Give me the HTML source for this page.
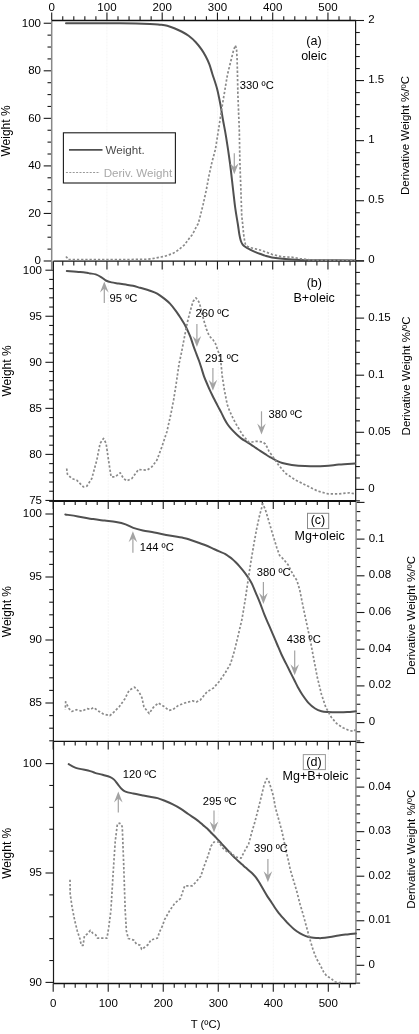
<!DOCTYPE html>
<html><head><meta charset="utf-8"><title>TGA</title>
<style>
html,body{margin:0;padding:0;background:#fff;}
body{width:419px;height:1034px;overflow:hidden;}
svg{display:block;font-family:"Liberation Sans",sans-serif;will-change:transform;}
</style></head>
<body>
<svg width="419" height="1034" viewBox="0 0 419 1034">
<rect width="419" height="1034" fill="#fff"/>
<line x1="106.95" y1="20.5" x2="106.95" y2="261.2" stroke="#f5f5f5" stroke-width="1" stroke-dasharray="2 1"/>
<line x1="162.2" y1="20.5" x2="162.2" y2="261.2" stroke="#f5f5f5" stroke-width="1" stroke-dasharray="2 1"/>
<line x1="217.45" y1="20.5" x2="217.45" y2="261.2" stroke="#f5f5f5" stroke-width="1" stroke-dasharray="2 1"/>
<line x1="272.7" y1="20.5" x2="272.7" y2="261.2" stroke="#f5f5f5" stroke-width="1" stroke-dasharray="2 1"/>
<line x1="327.95" y1="20.5" x2="327.95" y2="261.2" stroke="#f5f5f5" stroke-width="1" stroke-dasharray="2 1"/>
<line x1="108.22" y1="261.2" x2="108.22" y2="500.9" stroke="#f5f5f5" stroke-width="1" stroke-dasharray="2 1"/>
<line x1="163.24" y1="261.2" x2="163.24" y2="500.9" stroke="#f5f5f5" stroke-width="1" stroke-dasharray="2 1"/>
<line x1="218.26" y1="261.2" x2="218.26" y2="500.9" stroke="#f5f5f5" stroke-width="1" stroke-dasharray="2 1"/>
<line x1="273.28" y1="261.2" x2="273.28" y2="500.9" stroke="#f5f5f5" stroke-width="1" stroke-dasharray="2 1"/>
<line x1="328.3" y1="261.2" x2="328.3" y2="500.9" stroke="#f5f5f5" stroke-width="1" stroke-dasharray="2 1"/>
<line x1="108.22" y1="500.9" x2="108.22" y2="741.4" stroke="#f5f5f5" stroke-width="1" stroke-dasharray="2 1"/>
<line x1="163.24" y1="500.9" x2="163.24" y2="741.4" stroke="#f5f5f5" stroke-width="1" stroke-dasharray="2 1"/>
<line x1="218.26" y1="500.9" x2="218.26" y2="741.4" stroke="#f5f5f5" stroke-width="1" stroke-dasharray="2 1"/>
<line x1="273.28" y1="500.9" x2="273.28" y2="741.4" stroke="#f5f5f5" stroke-width="1" stroke-dasharray="2 1"/>
<line x1="328.3" y1="500.9" x2="328.3" y2="741.4" stroke="#f5f5f5" stroke-width="1" stroke-dasharray="2 1"/>
<line x1="108.22" y1="741.4" x2="108.22" y2="983.5" stroke="#f5f5f5" stroke-width="1" stroke-dasharray="2 1"/>
<line x1="163.24" y1="741.4" x2="163.24" y2="983.5" stroke="#f5f5f5" stroke-width="1" stroke-dasharray="2 1"/>
<line x1="218.26" y1="741.4" x2="218.26" y2="983.5" stroke="#f5f5f5" stroke-width="1" stroke-dasharray="2 1"/>
<line x1="273.28" y1="741.4" x2="273.28" y2="983.5" stroke="#f5f5f5" stroke-width="1" stroke-dasharray="2 1"/>
<line x1="328.3" y1="741.4" x2="328.3" y2="983.5" stroke="#f5f5f5" stroke-width="1" stroke-dasharray="2 1"/>
<line x1="43.7" y1="261" x2="51.7" y2="261" stroke="#1a1a1a" stroke-width="1.1"/>
<text x="41" y="264.3" font-size="11.5" text-anchor="end" fill="#000">0</text>
<line x1="47.5" y1="249.11" x2="51.7" y2="249.11" stroke="#1a1a1a" stroke-width="1.1"/>
<line x1="47.5" y1="237.22" x2="51.7" y2="237.22" stroke="#1a1a1a" stroke-width="1.1"/>
<line x1="47.5" y1="225.34" x2="51.7" y2="225.34" stroke="#1a1a1a" stroke-width="1.1"/>
<line x1="43.7" y1="213.45" x2="51.7" y2="213.45" stroke="#1a1a1a" stroke-width="1.1"/>
<text x="41" y="216.75" font-size="11.5" text-anchor="end" fill="#000">20</text>
<line x1="47.5" y1="201.56" x2="51.7" y2="201.56" stroke="#1a1a1a" stroke-width="1.1"/>
<line x1="47.5" y1="189.68" x2="51.7" y2="189.68" stroke="#1a1a1a" stroke-width="1.1"/>
<line x1="47.5" y1="177.79" x2="51.7" y2="177.79" stroke="#1a1a1a" stroke-width="1.1"/>
<line x1="43.7" y1="165.9" x2="51.7" y2="165.9" stroke="#1a1a1a" stroke-width="1.1"/>
<text x="41" y="169.2" font-size="11.5" text-anchor="end" fill="#000">40</text>
<line x1="47.5" y1="154.01" x2="51.7" y2="154.01" stroke="#1a1a1a" stroke-width="1.1"/>
<line x1="47.5" y1="142.12" x2="51.7" y2="142.12" stroke="#1a1a1a" stroke-width="1.1"/>
<line x1="47.5" y1="130.24" x2="51.7" y2="130.24" stroke="#1a1a1a" stroke-width="1.1"/>
<line x1="43.7" y1="118.35" x2="51.7" y2="118.35" stroke="#1a1a1a" stroke-width="1.1"/>
<text x="41" y="121.65" font-size="11.5" text-anchor="end" fill="#000">60</text>
<line x1="47.5" y1="106.46" x2="51.7" y2="106.46" stroke="#1a1a1a" stroke-width="1.1"/>
<line x1="47.5" y1="94.58" x2="51.7" y2="94.58" stroke="#1a1a1a" stroke-width="1.1"/>
<line x1="47.5" y1="82.69" x2="51.7" y2="82.69" stroke="#1a1a1a" stroke-width="1.1"/>
<line x1="43.7" y1="70.8" x2="51.7" y2="70.8" stroke="#1a1a1a" stroke-width="1.1"/>
<text x="41" y="74.1" font-size="11.5" text-anchor="end" fill="#000">80</text>
<line x1="47.5" y1="58.91" x2="51.7" y2="58.91" stroke="#1a1a1a" stroke-width="1.1"/>
<line x1="47.5" y1="47.03" x2="51.7" y2="47.03" stroke="#1a1a1a" stroke-width="1.1"/>
<line x1="47.5" y1="35.14" x2="51.7" y2="35.14" stroke="#1a1a1a" stroke-width="1.1"/>
<line x1="43.7" y1="23.25" x2="51.7" y2="23.25" stroke="#1a1a1a" stroke-width="1.1"/>
<text x="41" y="26.55" font-size="11.5" text-anchor="end" fill="#000">100</text>
<line x1="45.4" y1="500.45" x2="53.4" y2="500.45" stroke="#1a1a1a" stroke-width="1.1"/>
<text x="42" y="503.75" font-size="11.5" text-anchor="end" fill="#000">75</text>
<line x1="49.2" y1="491.24" x2="53.4" y2="491.24" stroke="#1a1a1a" stroke-width="1.1"/>
<line x1="49.2" y1="482.03" x2="53.4" y2="482.03" stroke="#1a1a1a" stroke-width="1.1"/>
<line x1="49.2" y1="472.82" x2="53.4" y2="472.82" stroke="#1a1a1a" stroke-width="1.1"/>
<line x1="49.2" y1="463.61" x2="53.4" y2="463.61" stroke="#1a1a1a" stroke-width="1.1"/>
<line x1="45.4" y1="454.4" x2="53.4" y2="454.4" stroke="#1a1a1a" stroke-width="1.1"/>
<text x="42" y="457.7" font-size="11.5" text-anchor="end" fill="#000">80</text>
<line x1="49.2" y1="445.19" x2="53.4" y2="445.19" stroke="#1a1a1a" stroke-width="1.1"/>
<line x1="49.2" y1="435.98" x2="53.4" y2="435.98" stroke="#1a1a1a" stroke-width="1.1"/>
<line x1="49.2" y1="426.77" x2="53.4" y2="426.77" stroke="#1a1a1a" stroke-width="1.1"/>
<line x1="49.2" y1="417.56" x2="53.4" y2="417.56" stroke="#1a1a1a" stroke-width="1.1"/>
<line x1="45.4" y1="408.35" x2="53.4" y2="408.35" stroke="#1a1a1a" stroke-width="1.1"/>
<text x="42" y="411.65" font-size="11.5" text-anchor="end" fill="#000">85</text>
<line x1="49.2" y1="399.14" x2="53.4" y2="399.14" stroke="#1a1a1a" stroke-width="1.1"/>
<line x1="49.2" y1="389.93" x2="53.4" y2="389.93" stroke="#1a1a1a" stroke-width="1.1"/>
<line x1="49.2" y1="380.72" x2="53.4" y2="380.72" stroke="#1a1a1a" stroke-width="1.1"/>
<line x1="49.2" y1="371.51" x2="53.4" y2="371.51" stroke="#1a1a1a" stroke-width="1.1"/>
<line x1="45.4" y1="362.3" x2="53.4" y2="362.3" stroke="#1a1a1a" stroke-width="1.1"/>
<text x="42" y="365.6" font-size="11.5" text-anchor="end" fill="#000">90</text>
<line x1="49.2" y1="353.09" x2="53.4" y2="353.09" stroke="#1a1a1a" stroke-width="1.1"/>
<line x1="49.2" y1="343.88" x2="53.4" y2="343.88" stroke="#1a1a1a" stroke-width="1.1"/>
<line x1="49.2" y1="334.67" x2="53.4" y2="334.67" stroke="#1a1a1a" stroke-width="1.1"/>
<line x1="49.2" y1="325.46" x2="53.4" y2="325.46" stroke="#1a1a1a" stroke-width="1.1"/>
<line x1="45.4" y1="316.25" x2="53.4" y2="316.25" stroke="#1a1a1a" stroke-width="1.1"/>
<text x="42" y="319.55" font-size="11.5" text-anchor="end" fill="#000">95</text>
<line x1="49.2" y1="307.04" x2="53.4" y2="307.04" stroke="#1a1a1a" stroke-width="1.1"/>
<line x1="49.2" y1="297.83" x2="53.4" y2="297.83" stroke="#1a1a1a" stroke-width="1.1"/>
<line x1="49.2" y1="288.62" x2="53.4" y2="288.62" stroke="#1a1a1a" stroke-width="1.1"/>
<line x1="49.2" y1="279.41" x2="53.4" y2="279.41" stroke="#1a1a1a" stroke-width="1.1"/>
<line x1="45.4" y1="270.2" x2="53.4" y2="270.2" stroke="#1a1a1a" stroke-width="1.1"/>
<text x="42" y="273.5" font-size="11.5" text-anchor="end" fill="#000">100</text>
<line x1="49.2" y1="740.8" x2="53.4" y2="740.8" stroke="#1a1a1a" stroke-width="1.1"/>
<line x1="49.2" y1="728.2" x2="53.4" y2="728.2" stroke="#1a1a1a" stroke-width="1.1"/>
<line x1="49.2" y1="715.6" x2="53.4" y2="715.6" stroke="#1a1a1a" stroke-width="1.1"/>
<line x1="45.4" y1="703" x2="53.4" y2="703" stroke="#1a1a1a" stroke-width="1.1"/>
<text x="42" y="706.3" font-size="11.5" text-anchor="end" fill="#000">85</text>
<line x1="49.2" y1="690.4" x2="53.4" y2="690.4" stroke="#1a1a1a" stroke-width="1.1"/>
<line x1="49.2" y1="677.8" x2="53.4" y2="677.8" stroke="#1a1a1a" stroke-width="1.1"/>
<line x1="49.2" y1="665.2" x2="53.4" y2="665.2" stroke="#1a1a1a" stroke-width="1.1"/>
<line x1="49.2" y1="652.6" x2="53.4" y2="652.6" stroke="#1a1a1a" stroke-width="1.1"/>
<line x1="45.4" y1="640" x2="53.4" y2="640" stroke="#1a1a1a" stroke-width="1.1"/>
<text x="42" y="643.3" font-size="11.5" text-anchor="end" fill="#000">90</text>
<line x1="49.2" y1="627.4" x2="53.4" y2="627.4" stroke="#1a1a1a" stroke-width="1.1"/>
<line x1="49.2" y1="614.8" x2="53.4" y2="614.8" stroke="#1a1a1a" stroke-width="1.1"/>
<line x1="49.2" y1="602.2" x2="53.4" y2="602.2" stroke="#1a1a1a" stroke-width="1.1"/>
<line x1="49.2" y1="589.6" x2="53.4" y2="589.6" stroke="#1a1a1a" stroke-width="1.1"/>
<line x1="45.4" y1="577" x2="53.4" y2="577" stroke="#1a1a1a" stroke-width="1.1"/>
<text x="42" y="580.3" font-size="11.5" text-anchor="end" fill="#000">95</text>
<line x1="49.2" y1="564.4" x2="53.4" y2="564.4" stroke="#1a1a1a" stroke-width="1.1"/>
<line x1="49.2" y1="551.8" x2="53.4" y2="551.8" stroke="#1a1a1a" stroke-width="1.1"/>
<line x1="49.2" y1="539.2" x2="53.4" y2="539.2" stroke="#1a1a1a" stroke-width="1.1"/>
<line x1="49.2" y1="526.6" x2="53.4" y2="526.6" stroke="#1a1a1a" stroke-width="1.1"/>
<line x1="45.4" y1="514" x2="53.4" y2="514" stroke="#1a1a1a" stroke-width="1.1"/>
<text x="42" y="517.3" font-size="11.5" text-anchor="end" fill="#000">100</text>
<line x1="49.2" y1="501.4" x2="53.4" y2="501.4" stroke="#1a1a1a" stroke-width="1.1"/>
<line x1="45.5" y1="982.4" x2="53.5" y2="982.4" stroke="#1a1a1a" stroke-width="1.1"/>
<text x="42" y="985.7" font-size="11.5" text-anchor="end" fill="#000">90</text>
<line x1="49.3" y1="960.52" x2="53.5" y2="960.52" stroke="#1a1a1a" stroke-width="1.1"/>
<line x1="49.3" y1="938.64" x2="53.5" y2="938.64" stroke="#1a1a1a" stroke-width="1.1"/>
<line x1="49.3" y1="916.76" x2="53.5" y2="916.76" stroke="#1a1a1a" stroke-width="1.1"/>
<line x1="49.3" y1="894.88" x2="53.5" y2="894.88" stroke="#1a1a1a" stroke-width="1.1"/>
<line x1="45.5" y1="873" x2="53.5" y2="873" stroke="#1a1a1a" stroke-width="1.1"/>
<text x="42" y="876.3" font-size="11.5" text-anchor="end" fill="#000">95</text>
<line x1="49.3" y1="851.12" x2="53.5" y2="851.12" stroke="#1a1a1a" stroke-width="1.1"/>
<line x1="49.3" y1="829.24" x2="53.5" y2="829.24" stroke="#1a1a1a" stroke-width="1.1"/>
<line x1="49.3" y1="807.36" x2="53.5" y2="807.36" stroke="#1a1a1a" stroke-width="1.1"/>
<line x1="49.3" y1="785.48" x2="53.5" y2="785.48" stroke="#1a1a1a" stroke-width="1.1"/>
<line x1="45.5" y1="763.6" x2="53.5" y2="763.6" stroke="#1a1a1a" stroke-width="1.1"/>
<text x="42" y="766.9" font-size="11.5" text-anchor="end" fill="#000">100</text>
<line x1="355.6" y1="260.8" x2="364" y2="260.8" stroke="#1a1a1a" stroke-width="1.1"/>
<text x="368.2" y="263.2" font-size="11.5" text-anchor="start" fill="#000">0</text>
<line x1="355.6" y1="248.79" x2="359.8" y2="248.79" stroke="#1a1a1a" stroke-width="1.1"/>
<line x1="355.6" y1="236.77" x2="359.8" y2="236.77" stroke="#1a1a1a" stroke-width="1.1"/>
<line x1="355.6" y1="224.75" x2="359.8" y2="224.75" stroke="#1a1a1a" stroke-width="1.1"/>
<line x1="355.6" y1="212.74" x2="359.8" y2="212.74" stroke="#1a1a1a" stroke-width="1.1"/>
<line x1="355.6" y1="200.73" x2="364" y2="200.73" stroke="#1a1a1a" stroke-width="1.1"/>
<text x="368.2" y="203.13" font-size="11.5" text-anchor="start" fill="#000">0.5</text>
<line x1="355.6" y1="188.71" x2="359.8" y2="188.71" stroke="#1a1a1a" stroke-width="1.1"/>
<line x1="355.6" y1="176.69" x2="359.8" y2="176.69" stroke="#1a1a1a" stroke-width="1.1"/>
<line x1="355.6" y1="164.68" x2="359.8" y2="164.68" stroke="#1a1a1a" stroke-width="1.1"/>
<line x1="355.6" y1="152.67" x2="359.8" y2="152.67" stroke="#1a1a1a" stroke-width="1.1"/>
<line x1="355.6" y1="140.65" x2="364" y2="140.65" stroke="#1a1a1a" stroke-width="1.1"/>
<text x="368.2" y="143.05" font-size="11.5" text-anchor="start" fill="#000">1</text>
<line x1="355.6" y1="128.63" x2="359.8" y2="128.63" stroke="#1a1a1a" stroke-width="1.1"/>
<line x1="355.6" y1="116.62" x2="359.8" y2="116.62" stroke="#1a1a1a" stroke-width="1.1"/>
<line x1="355.6" y1="104.6" x2="359.8" y2="104.6" stroke="#1a1a1a" stroke-width="1.1"/>
<line x1="355.6" y1="92.59" x2="359.8" y2="92.59" stroke="#1a1a1a" stroke-width="1.1"/>
<line x1="355.6" y1="80.57" x2="364" y2="80.57" stroke="#1a1a1a" stroke-width="1.1"/>
<text x="368.2" y="82.97" font-size="11.5" text-anchor="start" fill="#000">1.5</text>
<line x1="355.6" y1="68.56" x2="359.8" y2="68.56" stroke="#1a1a1a" stroke-width="1.1"/>
<line x1="355.6" y1="56.54" x2="359.8" y2="56.54" stroke="#1a1a1a" stroke-width="1.1"/>
<line x1="355.6" y1="44.53" x2="359.8" y2="44.53" stroke="#1a1a1a" stroke-width="1.1"/>
<line x1="355.6" y1="32.51" x2="359.8" y2="32.51" stroke="#1a1a1a" stroke-width="1.1"/>
<line x1="355.6" y1="20.5" x2="364" y2="20.5" stroke="#1a1a1a" stroke-width="1.1"/>
<text x="368.2" y="22.9" font-size="11.5" text-anchor="start" fill="#000">2</text>
<line x1="355.7" y1="500.82" x2="359.9" y2="500.82" stroke="#1a1a1a" stroke-width="1.1"/>
<line x1="355.7" y1="489.4" x2="364.1" y2="489.4" stroke="#1a1a1a" stroke-width="1.1"/>
<text x="368.3" y="491.8" font-size="11.5" text-anchor="start" fill="#000">0</text>
<line x1="355.7" y1="477.98" x2="359.9" y2="477.98" stroke="#1a1a1a" stroke-width="1.1"/>
<line x1="355.7" y1="466.56" x2="359.9" y2="466.56" stroke="#1a1a1a" stroke-width="1.1"/>
<line x1="355.7" y1="455.14" x2="359.9" y2="455.14" stroke="#1a1a1a" stroke-width="1.1"/>
<line x1="355.7" y1="443.72" x2="359.9" y2="443.72" stroke="#1a1a1a" stroke-width="1.1"/>
<line x1="355.7" y1="432.3" x2="364.1" y2="432.3" stroke="#1a1a1a" stroke-width="1.1"/>
<text x="368.3" y="434.7" font-size="11.5" text-anchor="start" fill="#000">0.05</text>
<line x1="355.7" y1="420.88" x2="359.9" y2="420.88" stroke="#1a1a1a" stroke-width="1.1"/>
<line x1="355.7" y1="409.46" x2="359.9" y2="409.46" stroke="#1a1a1a" stroke-width="1.1"/>
<line x1="355.7" y1="398.04" x2="359.9" y2="398.04" stroke="#1a1a1a" stroke-width="1.1"/>
<line x1="355.7" y1="386.62" x2="359.9" y2="386.62" stroke="#1a1a1a" stroke-width="1.1"/>
<line x1="355.7" y1="375.2" x2="364.1" y2="375.2" stroke="#1a1a1a" stroke-width="1.1"/>
<text x="368.3" y="377.6" font-size="11.5" text-anchor="start" fill="#000">0.1</text>
<line x1="355.7" y1="363.78" x2="359.9" y2="363.78" stroke="#1a1a1a" stroke-width="1.1"/>
<line x1="355.7" y1="352.36" x2="359.9" y2="352.36" stroke="#1a1a1a" stroke-width="1.1"/>
<line x1="355.7" y1="340.94" x2="359.9" y2="340.94" stroke="#1a1a1a" stroke-width="1.1"/>
<line x1="355.7" y1="329.52" x2="359.9" y2="329.52" stroke="#1a1a1a" stroke-width="1.1"/>
<line x1="355.7" y1="318.1" x2="364.1" y2="318.1" stroke="#1a1a1a" stroke-width="1.1"/>
<text x="368.3" y="320.5" font-size="11.5" text-anchor="start" fill="#000">0.15</text>
<line x1="355.7" y1="306.68" x2="359.9" y2="306.68" stroke="#1a1a1a" stroke-width="1.1"/>
<line x1="355.7" y1="295.26" x2="359.9" y2="295.26" stroke="#1a1a1a" stroke-width="1.1"/>
<line x1="355.7" y1="283.84" x2="359.9" y2="283.84" stroke="#1a1a1a" stroke-width="1.1"/>
<line x1="355.7" y1="272.42" x2="359.9" y2="272.42" stroke="#1a1a1a" stroke-width="1.1"/>
<line x1="355.7" y1="261" x2="364.1" y2="261" stroke="#1a1a1a" stroke-width="1.1"/>
<line x1="356.1" y1="740.95" x2="360.3" y2="740.95" stroke="#1a1a1a" stroke-width="1.1"/>
<line x1="356.1" y1="731.77" x2="360.3" y2="731.77" stroke="#1a1a1a" stroke-width="1.1"/>
<line x1="356.1" y1="722.6" x2="364.5" y2="722.6" stroke="#1a1a1a" stroke-width="1.1"/>
<text x="368.7" y="725" font-size="11.5" text-anchor="start" fill="#000">0</text>
<line x1="356.1" y1="713.43" x2="360.3" y2="713.43" stroke="#1a1a1a" stroke-width="1.1"/>
<line x1="356.1" y1="704.25" x2="360.3" y2="704.25" stroke="#1a1a1a" stroke-width="1.1"/>
<line x1="356.1" y1="695.08" x2="360.3" y2="695.08" stroke="#1a1a1a" stroke-width="1.1"/>
<line x1="356.1" y1="685.9" x2="364.5" y2="685.9" stroke="#1a1a1a" stroke-width="1.1"/>
<text x="368.7" y="688.3" font-size="11.5" text-anchor="start" fill="#000">0.02</text>
<line x1="356.1" y1="676.73" x2="360.3" y2="676.73" stroke="#1a1a1a" stroke-width="1.1"/>
<line x1="356.1" y1="667.55" x2="360.3" y2="667.55" stroke="#1a1a1a" stroke-width="1.1"/>
<line x1="356.1" y1="658.38" x2="360.3" y2="658.38" stroke="#1a1a1a" stroke-width="1.1"/>
<line x1="356.1" y1="649.2" x2="364.5" y2="649.2" stroke="#1a1a1a" stroke-width="1.1"/>
<text x="368.7" y="651.6" font-size="11.5" text-anchor="start" fill="#000">0.04</text>
<line x1="356.1" y1="640.02" x2="360.3" y2="640.02" stroke="#1a1a1a" stroke-width="1.1"/>
<line x1="356.1" y1="630.85" x2="360.3" y2="630.85" stroke="#1a1a1a" stroke-width="1.1"/>
<line x1="356.1" y1="621.68" x2="360.3" y2="621.68" stroke="#1a1a1a" stroke-width="1.1"/>
<line x1="356.1" y1="612.5" x2="364.5" y2="612.5" stroke="#1a1a1a" stroke-width="1.1"/>
<text x="368.7" y="614.9" font-size="11.5" text-anchor="start" fill="#000">0.06</text>
<line x1="356.1" y1="603.33" x2="360.3" y2="603.33" stroke="#1a1a1a" stroke-width="1.1"/>
<line x1="356.1" y1="594.15" x2="360.3" y2="594.15" stroke="#1a1a1a" stroke-width="1.1"/>
<line x1="356.1" y1="584.98" x2="360.3" y2="584.98" stroke="#1a1a1a" stroke-width="1.1"/>
<line x1="356.1" y1="575.8" x2="364.5" y2="575.8" stroke="#1a1a1a" stroke-width="1.1"/>
<text x="368.7" y="578.2" font-size="11.5" text-anchor="start" fill="#000">0.08</text>
<line x1="356.1" y1="566.62" x2="360.3" y2="566.62" stroke="#1a1a1a" stroke-width="1.1"/>
<line x1="356.1" y1="557.45" x2="360.3" y2="557.45" stroke="#1a1a1a" stroke-width="1.1"/>
<line x1="356.1" y1="548.28" x2="360.3" y2="548.28" stroke="#1a1a1a" stroke-width="1.1"/>
<line x1="356.1" y1="539.1" x2="364.5" y2="539.1" stroke="#1a1a1a" stroke-width="1.1"/>
<text x="368.7" y="541.5" font-size="11.5" text-anchor="start" fill="#000">0.1</text>
<line x1="356.1" y1="529.93" x2="360.3" y2="529.93" stroke="#1a1a1a" stroke-width="1.1"/>
<line x1="356.1" y1="520.75" x2="360.3" y2="520.75" stroke="#1a1a1a" stroke-width="1.1"/>
<line x1="356.1" y1="511.58" x2="360.3" y2="511.58" stroke="#1a1a1a" stroke-width="1.1"/>
<line x1="356.1" y1="502.4" x2="364.5" y2="502.4" stroke="#1a1a1a" stroke-width="1.1"/>
<line x1="355.9" y1="983.12" x2="360.1" y2="983.12" stroke="#1a1a1a" stroke-width="1.1"/>
<line x1="355.9" y1="974.21" x2="360.1" y2="974.21" stroke="#1a1a1a" stroke-width="1.1"/>
<line x1="355.9" y1="965.3" x2="364.3" y2="965.3" stroke="#1a1a1a" stroke-width="1.1"/>
<text x="368.5" y="967.7" font-size="11.5" text-anchor="start" fill="#000">0</text>
<line x1="355.9" y1="956.39" x2="360.1" y2="956.39" stroke="#1a1a1a" stroke-width="1.1"/>
<line x1="355.9" y1="947.48" x2="360.1" y2="947.48" stroke="#1a1a1a" stroke-width="1.1"/>
<line x1="355.9" y1="938.57" x2="360.1" y2="938.57" stroke="#1a1a1a" stroke-width="1.1"/>
<line x1="355.9" y1="929.66" x2="360.1" y2="929.66" stroke="#1a1a1a" stroke-width="1.1"/>
<line x1="355.9" y1="920.75" x2="364.3" y2="920.75" stroke="#1a1a1a" stroke-width="1.1"/>
<text x="368.5" y="923.15" font-size="11.5" text-anchor="start" fill="#000">0.01</text>
<line x1="355.9" y1="911.84" x2="360.1" y2="911.84" stroke="#1a1a1a" stroke-width="1.1"/>
<line x1="355.9" y1="902.93" x2="360.1" y2="902.93" stroke="#1a1a1a" stroke-width="1.1"/>
<line x1="355.9" y1="894.02" x2="360.1" y2="894.02" stroke="#1a1a1a" stroke-width="1.1"/>
<line x1="355.9" y1="885.11" x2="360.1" y2="885.11" stroke="#1a1a1a" stroke-width="1.1"/>
<line x1="355.9" y1="876.2" x2="364.3" y2="876.2" stroke="#1a1a1a" stroke-width="1.1"/>
<text x="368.5" y="878.6" font-size="11.5" text-anchor="start" fill="#000">0.02</text>
<line x1="355.9" y1="867.29" x2="360.1" y2="867.29" stroke="#1a1a1a" stroke-width="1.1"/>
<line x1="355.9" y1="858.38" x2="360.1" y2="858.38" stroke="#1a1a1a" stroke-width="1.1"/>
<line x1="355.9" y1="849.47" x2="360.1" y2="849.47" stroke="#1a1a1a" stroke-width="1.1"/>
<line x1="355.9" y1="840.56" x2="360.1" y2="840.56" stroke="#1a1a1a" stroke-width="1.1"/>
<line x1="355.9" y1="831.65" x2="364.3" y2="831.65" stroke="#1a1a1a" stroke-width="1.1"/>
<text x="368.5" y="834.05" font-size="11.5" text-anchor="start" fill="#000">0.03</text>
<line x1="355.9" y1="822.74" x2="360.1" y2="822.74" stroke="#1a1a1a" stroke-width="1.1"/>
<line x1="355.9" y1="813.83" x2="360.1" y2="813.83" stroke="#1a1a1a" stroke-width="1.1"/>
<line x1="355.9" y1="804.92" x2="360.1" y2="804.92" stroke="#1a1a1a" stroke-width="1.1"/>
<line x1="355.9" y1="796.01" x2="360.1" y2="796.01" stroke="#1a1a1a" stroke-width="1.1"/>
<line x1="355.9" y1="787.1" x2="364.3" y2="787.1" stroke="#1a1a1a" stroke-width="1.1"/>
<text x="368.5" y="789.5" font-size="11.5" text-anchor="start" fill="#000">0.04</text>
<line x1="355.9" y1="778.19" x2="360.1" y2="778.19" stroke="#1a1a1a" stroke-width="1.1"/>
<line x1="355.9" y1="769.28" x2="360.1" y2="769.28" stroke="#1a1a1a" stroke-width="1.1"/>
<line x1="355.9" y1="760.37" x2="360.1" y2="760.37" stroke="#1a1a1a" stroke-width="1.1"/>
<line x1="355.9" y1="751.46" x2="360.1" y2="751.46" stroke="#1a1a1a" stroke-width="1.1"/>
<line x1="355.9" y1="742.55" x2="364.3" y2="742.55" stroke="#1a1a1a" stroke-width="1.1"/>
<line x1="51.7" y1="12.5" x2="51.7" y2="20.5" stroke="#1a1a1a" stroke-width="1.1"/>
<text x="51.7" y="10.8" font-size="11.5" text-anchor="middle" fill="#000">0</text>
<line x1="62.75" y1="16.2" x2="62.75" y2="20.5" stroke="#1a1a1a" stroke-width="1.1"/>
<line x1="73.8" y1="16.2" x2="73.8" y2="20.5" stroke="#1a1a1a" stroke-width="1.1"/>
<line x1="84.85" y1="16.2" x2="84.85" y2="20.5" stroke="#1a1a1a" stroke-width="1.1"/>
<line x1="95.9" y1="16.2" x2="95.9" y2="20.5" stroke="#1a1a1a" stroke-width="1.1"/>
<line x1="106.95" y1="12.5" x2="106.95" y2="20.5" stroke="#1a1a1a" stroke-width="1.1"/>
<text x="106.95" y="10.8" font-size="11.5" text-anchor="middle" fill="#000">100</text>
<line x1="118" y1="16.2" x2="118" y2="20.5" stroke="#1a1a1a" stroke-width="1.1"/>
<line x1="129.05" y1="16.2" x2="129.05" y2="20.5" stroke="#1a1a1a" stroke-width="1.1"/>
<line x1="140.1" y1="16.2" x2="140.1" y2="20.5" stroke="#1a1a1a" stroke-width="1.1"/>
<line x1="151.15" y1="16.2" x2="151.15" y2="20.5" stroke="#1a1a1a" stroke-width="1.1"/>
<line x1="162.2" y1="12.5" x2="162.2" y2="20.5" stroke="#1a1a1a" stroke-width="1.1"/>
<text x="162.2" y="10.8" font-size="11.5" text-anchor="middle" fill="#000">200</text>
<line x1="173.25" y1="16.2" x2="173.25" y2="20.5" stroke="#1a1a1a" stroke-width="1.1"/>
<line x1="184.3" y1="16.2" x2="184.3" y2="20.5" stroke="#1a1a1a" stroke-width="1.1"/>
<line x1="195.35" y1="16.2" x2="195.35" y2="20.5" stroke="#1a1a1a" stroke-width="1.1"/>
<line x1="206.4" y1="16.2" x2="206.4" y2="20.5" stroke="#1a1a1a" stroke-width="1.1"/>
<line x1="217.45" y1="12.5" x2="217.45" y2="20.5" stroke="#1a1a1a" stroke-width="1.1"/>
<text x="217.45" y="10.8" font-size="11.5" text-anchor="middle" fill="#000">300</text>
<line x1="228.5" y1="16.2" x2="228.5" y2="20.5" stroke="#1a1a1a" stroke-width="1.1"/>
<line x1="239.55" y1="16.2" x2="239.55" y2="20.5" stroke="#1a1a1a" stroke-width="1.1"/>
<line x1="250.6" y1="16.2" x2="250.6" y2="20.5" stroke="#1a1a1a" stroke-width="1.1"/>
<line x1="261.65" y1="16.2" x2="261.65" y2="20.5" stroke="#1a1a1a" stroke-width="1.1"/>
<line x1="272.7" y1="12.5" x2="272.7" y2="20.5" stroke="#1a1a1a" stroke-width="1.1"/>
<text x="272.7" y="10.8" font-size="11.5" text-anchor="middle" fill="#000">400</text>
<line x1="283.75" y1="16.2" x2="283.75" y2="20.5" stroke="#1a1a1a" stroke-width="1.1"/>
<line x1="294.8" y1="16.2" x2="294.8" y2="20.5" stroke="#1a1a1a" stroke-width="1.1"/>
<line x1="305.85" y1="16.2" x2="305.85" y2="20.5" stroke="#1a1a1a" stroke-width="1.1"/>
<line x1="316.9" y1="16.2" x2="316.9" y2="20.5" stroke="#1a1a1a" stroke-width="1.1"/>
<line x1="327.95" y1="12.5" x2="327.95" y2="20.5" stroke="#1a1a1a" stroke-width="1.1"/>
<text x="327.95" y="10.8" font-size="11.5" text-anchor="middle" fill="#000">500</text>
<line x1="339" y1="16.2" x2="339" y2="20.5" stroke="#1a1a1a" stroke-width="1.1"/>
<line x1="350.05" y1="16.2" x2="350.05" y2="20.5" stroke="#1a1a1a" stroke-width="1.1"/>
<line x1="51.7" y1="261.2" x2="51.7" y2="269.4" stroke="#1a1a1a" stroke-width="1.1"/>
<line x1="62.75" y1="261.2" x2="62.75" y2="265.4" stroke="#1a1a1a" stroke-width="1.1"/>
<line x1="73.8" y1="261.2" x2="73.8" y2="265.4" stroke="#1a1a1a" stroke-width="1.1"/>
<line x1="84.85" y1="261.2" x2="84.85" y2="265.4" stroke="#1a1a1a" stroke-width="1.1"/>
<line x1="95.9" y1="261.2" x2="95.9" y2="265.4" stroke="#1a1a1a" stroke-width="1.1"/>
<line x1="106.95" y1="261.2" x2="106.95" y2="269.4" stroke="#1a1a1a" stroke-width="1.1"/>
<line x1="118" y1="261.2" x2="118" y2="265.4" stroke="#1a1a1a" stroke-width="1.1"/>
<line x1="129.05" y1="261.2" x2="129.05" y2="265.4" stroke="#1a1a1a" stroke-width="1.1"/>
<line x1="140.1" y1="261.2" x2="140.1" y2="265.4" stroke="#1a1a1a" stroke-width="1.1"/>
<line x1="151.15" y1="261.2" x2="151.15" y2="265.4" stroke="#1a1a1a" stroke-width="1.1"/>
<line x1="162.2" y1="261.2" x2="162.2" y2="269.4" stroke="#1a1a1a" stroke-width="1.1"/>
<line x1="173.25" y1="261.2" x2="173.25" y2="265.4" stroke="#1a1a1a" stroke-width="1.1"/>
<line x1="184.3" y1="261.2" x2="184.3" y2="265.4" stroke="#1a1a1a" stroke-width="1.1"/>
<line x1="195.35" y1="261.2" x2="195.35" y2="265.4" stroke="#1a1a1a" stroke-width="1.1"/>
<line x1="206.4" y1="261.2" x2="206.4" y2="265.4" stroke="#1a1a1a" stroke-width="1.1"/>
<line x1="217.45" y1="261.2" x2="217.45" y2="269.4" stroke="#1a1a1a" stroke-width="1.1"/>
<line x1="228.5" y1="261.2" x2="228.5" y2="265.4" stroke="#1a1a1a" stroke-width="1.1"/>
<line x1="239.55" y1="261.2" x2="239.55" y2="265.4" stroke="#1a1a1a" stroke-width="1.1"/>
<line x1="250.6" y1="261.2" x2="250.6" y2="265.4" stroke="#1a1a1a" stroke-width="1.1"/>
<line x1="261.65" y1="261.2" x2="261.65" y2="265.4" stroke="#1a1a1a" stroke-width="1.1"/>
<line x1="272.7" y1="261.2" x2="272.7" y2="269.4" stroke="#1a1a1a" stroke-width="1.1"/>
<line x1="283.75" y1="261.2" x2="283.75" y2="265.4" stroke="#1a1a1a" stroke-width="1.1"/>
<line x1="294.8" y1="261.2" x2="294.8" y2="265.4" stroke="#1a1a1a" stroke-width="1.1"/>
<line x1="305.85" y1="261.2" x2="305.85" y2="265.4" stroke="#1a1a1a" stroke-width="1.1"/>
<line x1="316.9" y1="261.2" x2="316.9" y2="265.4" stroke="#1a1a1a" stroke-width="1.1"/>
<line x1="327.95" y1="261.2" x2="327.95" y2="269.4" stroke="#1a1a1a" stroke-width="1.1"/>
<line x1="339" y1="261.2" x2="339" y2="265.4" stroke="#1a1a1a" stroke-width="1.1"/>
<line x1="350.05" y1="261.2" x2="350.05" y2="265.4" stroke="#1a1a1a" stroke-width="1.1"/>
<line x1="53.2" y1="500.9" x2="53.2" y2="509.1" stroke="#1a1a1a" stroke-width="1.1"/>
<line x1="64.2" y1="500.9" x2="64.2" y2="505.1" stroke="#1a1a1a" stroke-width="1.1"/>
<line x1="75.21" y1="500.9" x2="75.21" y2="505.1" stroke="#1a1a1a" stroke-width="1.1"/>
<line x1="86.21" y1="500.9" x2="86.21" y2="505.1" stroke="#1a1a1a" stroke-width="1.1"/>
<line x1="97.22" y1="500.9" x2="97.22" y2="505.1" stroke="#1a1a1a" stroke-width="1.1"/>
<line x1="108.22" y1="500.9" x2="108.22" y2="509.1" stroke="#1a1a1a" stroke-width="1.1"/>
<line x1="119.22" y1="500.9" x2="119.22" y2="505.1" stroke="#1a1a1a" stroke-width="1.1"/>
<line x1="130.23" y1="500.9" x2="130.23" y2="505.1" stroke="#1a1a1a" stroke-width="1.1"/>
<line x1="141.23" y1="500.9" x2="141.23" y2="505.1" stroke="#1a1a1a" stroke-width="1.1"/>
<line x1="152.24" y1="500.9" x2="152.24" y2="505.1" stroke="#1a1a1a" stroke-width="1.1"/>
<line x1="163.24" y1="500.9" x2="163.24" y2="509.1" stroke="#1a1a1a" stroke-width="1.1"/>
<line x1="174.24" y1="500.9" x2="174.24" y2="505.1" stroke="#1a1a1a" stroke-width="1.1"/>
<line x1="185.25" y1="500.9" x2="185.25" y2="505.1" stroke="#1a1a1a" stroke-width="1.1"/>
<line x1="196.25" y1="500.9" x2="196.25" y2="505.1" stroke="#1a1a1a" stroke-width="1.1"/>
<line x1="207.26" y1="500.9" x2="207.26" y2="505.1" stroke="#1a1a1a" stroke-width="1.1"/>
<line x1="218.26" y1="500.9" x2="218.26" y2="509.1" stroke="#1a1a1a" stroke-width="1.1"/>
<line x1="229.26" y1="500.9" x2="229.26" y2="505.1" stroke="#1a1a1a" stroke-width="1.1"/>
<line x1="240.27" y1="500.9" x2="240.27" y2="505.1" stroke="#1a1a1a" stroke-width="1.1"/>
<line x1="251.27" y1="500.9" x2="251.27" y2="505.1" stroke="#1a1a1a" stroke-width="1.1"/>
<line x1="262.28" y1="500.9" x2="262.28" y2="505.1" stroke="#1a1a1a" stroke-width="1.1"/>
<line x1="273.28" y1="500.9" x2="273.28" y2="509.1" stroke="#1a1a1a" stroke-width="1.1"/>
<line x1="284.28" y1="500.9" x2="284.28" y2="505.1" stroke="#1a1a1a" stroke-width="1.1"/>
<line x1="295.29" y1="500.9" x2="295.29" y2="505.1" stroke="#1a1a1a" stroke-width="1.1"/>
<line x1="306.29" y1="500.9" x2="306.29" y2="505.1" stroke="#1a1a1a" stroke-width="1.1"/>
<line x1="317.3" y1="500.9" x2="317.3" y2="505.1" stroke="#1a1a1a" stroke-width="1.1"/>
<line x1="328.3" y1="500.9" x2="328.3" y2="509.1" stroke="#1a1a1a" stroke-width="1.1"/>
<line x1="339.3" y1="500.9" x2="339.3" y2="505.1" stroke="#1a1a1a" stroke-width="1.1"/>
<line x1="350.31" y1="500.9" x2="350.31" y2="505.1" stroke="#1a1a1a" stroke-width="1.1"/>
<line x1="53.2" y1="741.4" x2="53.2" y2="749.6" stroke="#1a1a1a" stroke-width="1.1"/>
<line x1="64.2" y1="741.4" x2="64.2" y2="745.6" stroke="#1a1a1a" stroke-width="1.1"/>
<line x1="75.21" y1="741.4" x2="75.21" y2="745.6" stroke="#1a1a1a" stroke-width="1.1"/>
<line x1="86.21" y1="741.4" x2="86.21" y2="745.6" stroke="#1a1a1a" stroke-width="1.1"/>
<line x1="97.22" y1="741.4" x2="97.22" y2="745.6" stroke="#1a1a1a" stroke-width="1.1"/>
<line x1="108.22" y1="741.4" x2="108.22" y2="749.6" stroke="#1a1a1a" stroke-width="1.1"/>
<line x1="119.22" y1="741.4" x2="119.22" y2="745.6" stroke="#1a1a1a" stroke-width="1.1"/>
<line x1="130.23" y1="741.4" x2="130.23" y2="745.6" stroke="#1a1a1a" stroke-width="1.1"/>
<line x1="141.23" y1="741.4" x2="141.23" y2="745.6" stroke="#1a1a1a" stroke-width="1.1"/>
<line x1="152.24" y1="741.4" x2="152.24" y2="745.6" stroke="#1a1a1a" stroke-width="1.1"/>
<line x1="163.24" y1="741.4" x2="163.24" y2="749.6" stroke="#1a1a1a" stroke-width="1.1"/>
<line x1="174.24" y1="741.4" x2="174.24" y2="745.6" stroke="#1a1a1a" stroke-width="1.1"/>
<line x1="185.25" y1="741.4" x2="185.25" y2="745.6" stroke="#1a1a1a" stroke-width="1.1"/>
<line x1="196.25" y1="741.4" x2="196.25" y2="745.6" stroke="#1a1a1a" stroke-width="1.1"/>
<line x1="207.26" y1="741.4" x2="207.26" y2="745.6" stroke="#1a1a1a" stroke-width="1.1"/>
<line x1="218.26" y1="741.4" x2="218.26" y2="749.6" stroke="#1a1a1a" stroke-width="1.1"/>
<line x1="229.26" y1="741.4" x2="229.26" y2="745.6" stroke="#1a1a1a" stroke-width="1.1"/>
<line x1="240.27" y1="741.4" x2="240.27" y2="745.6" stroke="#1a1a1a" stroke-width="1.1"/>
<line x1="251.27" y1="741.4" x2="251.27" y2="745.6" stroke="#1a1a1a" stroke-width="1.1"/>
<line x1="262.28" y1="741.4" x2="262.28" y2="745.6" stroke="#1a1a1a" stroke-width="1.1"/>
<line x1="273.28" y1="741.4" x2="273.28" y2="749.6" stroke="#1a1a1a" stroke-width="1.1"/>
<line x1="284.28" y1="741.4" x2="284.28" y2="745.6" stroke="#1a1a1a" stroke-width="1.1"/>
<line x1="295.29" y1="741.4" x2="295.29" y2="745.6" stroke="#1a1a1a" stroke-width="1.1"/>
<line x1="306.29" y1="741.4" x2="306.29" y2="745.6" stroke="#1a1a1a" stroke-width="1.1"/>
<line x1="317.3" y1="741.4" x2="317.3" y2="745.6" stroke="#1a1a1a" stroke-width="1.1"/>
<line x1="328.3" y1="741.4" x2="328.3" y2="749.6" stroke="#1a1a1a" stroke-width="1.1"/>
<line x1="339.3" y1="741.4" x2="339.3" y2="745.6" stroke="#1a1a1a" stroke-width="1.1"/>
<line x1="350.31" y1="741.4" x2="350.31" y2="745.6" stroke="#1a1a1a" stroke-width="1.1"/>
<line x1="53.2" y1="983.5" x2="53.2" y2="991.7" stroke="#1a1a1a" stroke-width="1.1"/>
<text x="53.2" y="1006.8" font-size="11.5" text-anchor="middle" fill="#000">0</text>
<line x1="64.2" y1="983.5" x2="64.2" y2="987.7" stroke="#1a1a1a" stroke-width="1.1"/>
<line x1="75.21" y1="983.5" x2="75.21" y2="987.7" stroke="#1a1a1a" stroke-width="1.1"/>
<line x1="86.21" y1="983.5" x2="86.21" y2="987.7" stroke="#1a1a1a" stroke-width="1.1"/>
<line x1="97.22" y1="983.5" x2="97.22" y2="987.7" stroke="#1a1a1a" stroke-width="1.1"/>
<line x1="108.22" y1="983.5" x2="108.22" y2="991.7" stroke="#1a1a1a" stroke-width="1.1"/>
<text x="108.22" y="1006.8" font-size="11.5" text-anchor="middle" fill="#000">100</text>
<line x1="119.22" y1="983.5" x2="119.22" y2="987.7" stroke="#1a1a1a" stroke-width="1.1"/>
<line x1="130.23" y1="983.5" x2="130.23" y2="987.7" stroke="#1a1a1a" stroke-width="1.1"/>
<line x1="141.23" y1="983.5" x2="141.23" y2="987.7" stroke="#1a1a1a" stroke-width="1.1"/>
<line x1="152.24" y1="983.5" x2="152.24" y2="987.7" stroke="#1a1a1a" stroke-width="1.1"/>
<line x1="163.24" y1="983.5" x2="163.24" y2="991.7" stroke="#1a1a1a" stroke-width="1.1"/>
<text x="163.24" y="1006.8" font-size="11.5" text-anchor="middle" fill="#000">200</text>
<line x1="174.24" y1="983.5" x2="174.24" y2="987.7" stroke="#1a1a1a" stroke-width="1.1"/>
<line x1="185.25" y1="983.5" x2="185.25" y2="987.7" stroke="#1a1a1a" stroke-width="1.1"/>
<line x1="196.25" y1="983.5" x2="196.25" y2="987.7" stroke="#1a1a1a" stroke-width="1.1"/>
<line x1="207.26" y1="983.5" x2="207.26" y2="987.7" stroke="#1a1a1a" stroke-width="1.1"/>
<line x1="218.26" y1="983.5" x2="218.26" y2="991.7" stroke="#1a1a1a" stroke-width="1.1"/>
<text x="218.26" y="1006.8" font-size="11.5" text-anchor="middle" fill="#000">300</text>
<line x1="229.26" y1="983.5" x2="229.26" y2="987.7" stroke="#1a1a1a" stroke-width="1.1"/>
<line x1="240.27" y1="983.5" x2="240.27" y2="987.7" stroke="#1a1a1a" stroke-width="1.1"/>
<line x1="251.27" y1="983.5" x2="251.27" y2="987.7" stroke="#1a1a1a" stroke-width="1.1"/>
<line x1="262.28" y1="983.5" x2="262.28" y2="987.7" stroke="#1a1a1a" stroke-width="1.1"/>
<line x1="273.28" y1="983.5" x2="273.28" y2="991.7" stroke="#1a1a1a" stroke-width="1.1"/>
<text x="273.28" y="1006.8" font-size="11.5" text-anchor="middle" fill="#000">400</text>
<line x1="284.28" y1="983.5" x2="284.28" y2="987.7" stroke="#1a1a1a" stroke-width="1.1"/>
<line x1="295.29" y1="983.5" x2="295.29" y2="987.7" stroke="#1a1a1a" stroke-width="1.1"/>
<line x1="306.29" y1="983.5" x2="306.29" y2="987.7" stroke="#1a1a1a" stroke-width="1.1"/>
<line x1="317.3" y1="983.5" x2="317.3" y2="987.7" stroke="#1a1a1a" stroke-width="1.1"/>
<line x1="328.3" y1="983.5" x2="328.3" y2="991.7" stroke="#1a1a1a" stroke-width="1.1"/>
<text x="328.3" y="1006.8" font-size="11.5" text-anchor="middle" fill="#000">500</text>
<line x1="339.3" y1="983.5" x2="339.3" y2="987.7" stroke="#1a1a1a" stroke-width="1.1"/>
<line x1="350.31" y1="983.5" x2="350.31" y2="987.7" stroke="#1a1a1a" stroke-width="1.1"/>
<line x1="51.7" y1="20.5" x2="51.7" y2="269.2" stroke="#888" stroke-width="1.5"/>
<line x1="355.6" y1="20.5" x2="355.6" y2="261.2" stroke="#1a1a1a" stroke-width="1.2"/>
<line x1="53.4" y1="261.2" x2="53.4" y2="500.9" stroke="#1a1a1a" stroke-width="1.2"/>
<line x1="355.7" y1="261.2" x2="355.7" y2="500.9" stroke="#1a1a1a" stroke-width="1.2"/>
<line x1="53.4" y1="500.9" x2="53.4" y2="741.4" stroke="#1a1a1a" stroke-width="1.2"/>
<line x1="356.1" y1="500.9" x2="356.1" y2="741.4" stroke="#888" stroke-width="1.5"/>
<line x1="53.5" y1="741.4" x2="53.5" y2="983.5" stroke="#1a1a1a" stroke-width="1.2"/>
<line x1="355.9" y1="741.4" x2="355.9" y2="983.5" stroke="#888" stroke-width="1.5"/>
<line x1="51.7" y1="20.5" x2="355.9" y2="20.5" stroke="#111" stroke-width="1.3"/>
<line x1="53.4" y1="261.2" x2="355.9" y2="261.2" stroke="#111" stroke-width="1.2"/>
<line x1="53.4" y1="500.9" x2="355.9" y2="500.9" stroke="#111" stroke-width="2"/>
<line x1="53.4" y1="741.4" x2="355.9" y2="741.4" stroke="#111" stroke-width="1.4"/>
<line x1="53.4" y1="983.5" x2="355.9" y2="983.5" stroke="#111" stroke-width="1.3"/>
<text x="10" y="131" font-size="12" text-anchor="middle" fill="#000" transform="rotate(-90 10 131)">Weight %</text>
<text x="11" y="371" font-size="12" text-anchor="middle" fill="#000" transform="rotate(-90 11 371)">Weight %</text>
<text x="11" y="611.6" font-size="12" text-anchor="middle" fill="#000" transform="rotate(-90 11 611.6)">Weight %</text>
<text x="11" y="853.3" font-size="12" text-anchor="middle" fill="#000" transform="rotate(-90 11 853.3)">Weight %</text>
<text x="409.4" y="135.5" font-size="11.5" text-anchor="middle" fill="#000" transform="rotate(-90 409.4 135.5)">Derivative Weight %/ºC</text>
<text x="410.1" y="375.9" font-size="11.5" text-anchor="middle" fill="#000" transform="rotate(-90 410.1 375.9)">Derivative Weight %/ºC</text>
<text x="415" y="615.5" font-size="11.5" text-anchor="middle" fill="#000" transform="rotate(-90 415 615.5)">Derivative Weight %/ºC</text>
<text x="415" y="849.2" font-size="11.5" text-anchor="middle" fill="#000" transform="rotate(-90 415 849.2)">Derivative Weight %/ºC</text>
<text x="205.6" y="1028.3" font-size="11.3" text-anchor="middle" fill="#000">T (ºC)</text>
<path d="M66,23.2 C75,23.22 106,23.18 120,23.3 C134,23.42 143.33,23.67 150,23.9 C156.67,24.13 157.13,24.4 160,24.7 C162.87,25 164.82,25.12 167.2,25.7 C169.58,26.28 171.92,27.23 174.3,28.2 C176.68,29.17 179.12,30.23 181.5,31.5 C183.88,32.77 186.22,34.02 188.6,35.8 C190.98,37.58 193.65,39.93 195.8,42.2 C197.95,44.47 199.83,47.02 201.5,49.4 C203.17,51.78 204.48,54 205.8,56.5 C207.12,59 208.32,61.53 209.4,64.4 C210.48,67.27 211.03,69.68 212.3,73.7 C213.57,77.72 215.63,83.28 217,88.5 C218.37,93.72 219.5,99.75 220.5,105 C221.5,110.25 222.08,114.78 223,120 C223.92,125.22 224.85,129.22 226,136.3 C227.15,143.38 228.73,153.72 229.9,162.5 C231.07,171.28 232.1,181.35 233,189 C233.9,196.65 234.48,202.48 235.3,208.4 C236.12,214.32 237.23,220.22 237.9,224.5 C238.57,228.78 238.82,231.38 239.3,234.1 C239.78,236.82 240.23,239.05 240.8,240.8 C241.37,242.55 241.92,243.57 242.7,244.6 C243.48,245.63 244.32,246.2 245.5,247 C246.68,247.8 248.13,248.53 249.8,249.4 C251.47,250.27 253.58,251.38 255.5,252.2 C257.42,253.02 259.72,253.73 261.3,254.3 C262.88,254.87 263.23,255.08 265,255.6 C266.77,256.12 268.57,256.83 271.9,257.4 C275.23,257.97 280.32,258.58 285,259 C289.68,259.42 294.17,259.68 300,259.9 C305.83,260.12 310.83,260.22 320,260.3 C329.17,260.38 349.17,260.38 355,260.4" fill="none" stroke="#505050" stroke-width="2" stroke-linejoin="round" stroke-linecap="round"/>
<path d="M66,256.5 L68.5,259.6" fill="none" stroke="#8a8a8a" stroke-width="1.7" stroke-dasharray="2.3 1.9" stroke-linejoin="round"/>
<path d="M68.5,259.6 L100,259.7 L145,259.4 L152,258.8 L161,257 L165.7,256 L169.5,254.6 L172.4,253.7 L175.8,251.8 L178.6,249.8 L182,247 L184.8,244.6 L187.7,240.3 L192,235 L193.9,231.7 L196.3,226.9 L198.2,223.6 L199.5,219 L203,205 L206.3,190 L208.9,176 L212,162 L215.4,149.4 L218.8,128 L221.5,110 L224.5,92.3 L227.5,74.4 L230.5,62.4 L233.5,50.5 L235.3,45.7" fill="none" stroke="#8a8a8a" stroke-width="1.7" stroke-dasharray="2.3 1.9" stroke-linejoin="round"/>
<path d="M235.3,45.7 L236.5,48.1 L237.1,58.9 L237.4,70.8 L237.9,94.7 L238.5,110 L239.3,130 L239.9,162.5 L240.9,190 L241.7,215 L242.7,224.5 L243.6,234.1 L244.6,240.8 L245.5,244.6 L247.5,246.4 L249.8,247.5 L255.5,248.9 L261.3,250.3 L271.9,254.3 L282,256.8 L291.5,257.2 L300,258.6 L308.7,259.7 L320,260.1 L355,260.1" fill="none" stroke="#8a8a8a" stroke-width="1.7" stroke-dasharray="2.3 1.9" stroke-linejoin="round"/>
<path d="M66.8,271 C69,271.17 76.65,271.7 80,272 C83.35,272.3 85.23,272.57 86.9,272.8 C88.57,273.03 88.53,273.13 90,273.4 C91.47,273.67 93.78,273.75 95.7,274.4 C97.62,275.05 99.82,276.28 101.5,277.3 C103.18,278.32 104.13,279.65 105.8,280.5 C107.47,281.35 109.37,281.9 111.5,282.4 C113.63,282.9 116.22,283.13 118.6,283.5 C120.98,283.87 123.4,284.22 125.8,284.6 C128.2,284.98 130.62,285.27 133,285.8 C135.38,286.33 137.27,286.98 140.1,287.8 C142.93,288.62 147.15,289.73 150,290.7 C152.85,291.67 154.82,292.28 157.2,293.6 C159.58,294.92 162.17,296.93 164.3,298.6 C166.43,300.27 168.08,301.57 170,303.6 C171.92,305.63 174.22,308.68 175.8,310.8 C177.38,312.92 178.48,314.77 179.5,316.3 C180.52,317.83 181.02,318.58 181.9,320 C182.78,321.42 183.85,323.05 184.8,324.8 C185.75,326.55 186.65,328.43 187.6,330.5 C188.55,332.57 189.53,334.65 190.5,337.2 C191.47,339.75 192.45,343.1 193.4,345.8 C194.35,348.5 195.25,350.87 196.2,353.4 C197.15,355.93 198.15,358.3 199.1,361 C200.05,363.7 201.03,366.9 201.9,369.6 C202.77,372.3 203.42,374.8 204.3,377.2 C205.18,379.6 206.33,381.97 207.2,384 C208.07,386.03 208.63,387.48 209.5,389.4 C210.37,391.32 211.43,393.53 212.4,395.5 C213.37,397.47 214.35,399.35 215.3,401.2 C216.25,403.05 217.1,404.7 218.1,406.6 C219.1,408.5 220.25,410.55 221.3,412.6 C222.35,414.65 223.33,416.92 224.4,418.9 C225.47,420.88 226.45,422.7 227.7,424.5 C228.95,426.3 230.4,428.03 231.9,429.7 C233.4,431.37 235.1,433.02 236.7,434.5 C238.3,435.98 239.9,437.42 241.5,438.6 C243.1,439.78 244.72,440.6 246.3,441.6 C247.88,442.6 249.42,443.55 251,444.6 C252.58,445.65 254.2,446.8 255.8,447.9 C257.4,449 259.02,450.15 260.6,451.2 C262.18,452.25 263.73,453.22 265.3,454.2 C266.87,455.18 268.22,456.07 270,457.1 C271.78,458.13 273.95,459.42 276,460.4 C278.05,461.38 279.67,462.25 282.3,463 C284.93,463.75 288.02,464.4 291.8,464.9 C295.58,465.4 299.53,465.82 305,466 C310.47,466.18 318.95,466.23 324.6,466 C330.25,465.77 333.83,465.03 338.9,464.6 C343.97,464.17 352.32,463.6 355,463.4" fill="none" stroke="#505050" stroke-width="2" stroke-linejoin="round" stroke-linecap="round"/>
<path d="M66.7,468.5 L67.4,474.2 L71.7,478.5 L76.7,480.2 L83.4,486.9 L86.8,486.2 L91.8,478.5 L96.8,460.1 L100.1,443.4 L103.5,438.4 L106.1,443.4 L108.5,460.1 L111.1,476.8 L115.2,476.8 L120.2,472.8 L123.5,478.5 L126.8,480.9 L131.9,478.5 L138.5,469.5 L146.9,470.2 L151.9,466.8 L156.9,460.1 L161.9,446.8 L166.9,431.7 L171,413.4 L173.6,400 L176,385 L179.1,363.5 L181,355 L184.4,337.3 L187.2,323 L190.1,311.5 L193,301.5 L196,297.9 L198.8,301.7 L200.7,307.4 L202.6,316 L204.5,322.7 L206.5,329.4 L209.3,336 L213.1,339.9 L215.5,343.7 L217.4,349.4 L219.3,354.2 L220.8,361.5 L222.2,375.8 L224.4,390.1 L227.2,404.4 L229.5,410.6 L231.9,416 L235.5,423.1 L239.1,429.1 L242.7,435.1 L245.7,438.6 L248.6,442 L252.2,442 L255.8,441.3 L259.4,441.6 L263,442 L265.3,444 L267.7,448.2 L268.9,451.2 L270.8,453.8 L274.6,459.2 L278.5,464.9 L285.2,473.1 L295.9,480.3 L306.7,485.6 L317.4,491 L328.2,493.9 L338.9,493.9 L349.6,492.8 L355,493.9" fill="none" stroke="#8a8a8a" stroke-width="1.7" stroke-dasharray="2.3 1.9" stroke-linejoin="round"/>
<path d="M65.3,514.5 C67.4,514.82 73.25,515.63 77.9,516.4 C82.55,517.17 88.75,518.4 93.2,519.1 C97.65,519.8 100.78,520.1 104.6,520.6 C108.42,521.1 112.6,521.47 116.1,522.1 C119.6,522.73 122.73,523.43 125.6,524.4 C128.47,525.37 130.43,526.88 133.3,527.9 C136.17,528.92 139.3,529.73 142.8,530.5 C146.3,531.27 149.85,531.67 154.3,532.5 C158.75,533.33 164.42,534.55 169.5,535.5 C174.58,536.45 181.38,537.5 184.8,538.2 C188.22,538.9 187.93,539.03 190,539.7 C192.07,540.37 194.82,541.35 197.2,542.2 C199.58,543.05 201.92,543.85 204.3,544.8 C206.68,545.75 209.12,546.83 211.5,547.9 C213.88,548.97 216.35,550.2 218.6,551.2 C220.85,552.2 223.33,553.03 225,553.9 C226.67,554.77 227.4,555.57 228.6,556.4 C229.8,557.23 231.02,557.93 232.2,558.9 C233.38,559.87 234.52,561 235.7,562.2 C236.88,563.4 238.1,564.73 239.3,566.1 C240.5,567.47 241.7,568.9 242.9,570.4 C244.1,571.9 245.4,573.57 246.5,575.1 C247.6,576.63 248.55,578.05 249.5,579.6 C250.45,581.15 251.15,582.18 252.2,584.4 C253.25,586.62 254.5,589.82 255.8,592.9 C257.1,595.98 258.58,599.32 260,602.9 C261.42,606.48 262.87,610.82 264.3,614.4 C265.73,617.98 267.17,621.07 268.6,624.4 C270.03,627.73 271.47,631.05 272.9,634.4 C274.33,637.75 275.77,641.15 277.2,644.5 C278.63,647.85 280.07,651.4 281.5,654.5 C282.93,657.6 284.37,660.23 285.8,663.1 C287.23,665.97 288.67,668.83 290.1,671.7 C291.53,674.57 293.08,677.68 294.4,680.3 C295.72,682.92 296.7,685.03 298,687.4 C299.3,689.77 300.42,691.88 302.2,694.5 C303.98,697.12 306.55,700.77 308.7,703.1 C310.85,705.43 312.97,707.13 315.1,708.5 C317.23,709.87 319.35,710.7 321.5,711.3 C323.65,711.9 325.13,711.93 328,712.1 C330.87,712.27 335.48,712.3 338.7,712.3 C341.92,712.3 344.43,712.27 347.3,712.1 C350.17,711.93 354.47,711.43 355.9,711.3" fill="none" stroke="#505050" stroke-width="2" stroke-linejoin="round" stroke-linecap="round"/>
<path d="M65.7,701.1 L65.3,709.7" fill="none" stroke="#8a8a8a" stroke-width="1.7" stroke-dasharray="2.3 1.9" stroke-linejoin="round"/>
<path d="M66.8,704.4 L69,708.7 L71.8,711.5 L76.5,709.7 L81.8,711.2 L87.2,708.7 L90.4,709.3 L93.7,707.6 L98,710.8 L103.3,714 L109.8,715.7 L114.1,711.9 L119.4,706.5 L124.8,699 L129.1,690.4 L134.5,687.2 L138.8,691.5 L142,697.9 L143.9,706.9 L149.2,713.5 L153.1,707.7 L158.4,703 L163.6,706.2 L168.9,710.4 L172.8,709.6 L178.1,705.6 L184.6,703 L192.5,700.9 L196.4,702 L200.4,699.9 L206.9,692 L213.5,688 L218.8,682 L225.3,672.8 L230.6,663.6 L234.5,650.5 L237.1,640 L242,619.1 L245.3,599.3 L248.1,580.2 L251,561.1 L253.9,543.9 L256.7,528.6 L259.6,515.3 L262.8,503.8 L265.3,509.5 L268.2,519.1 L271,528.6 L273.9,538.2 L276.8,547.7 L279.6,555.4 L283.5,559.2 L288.2,564.9 L293,574.5 L296.8,580.2 L299.7,589.7 L301.6,599.3 L304.4,612.9 L307.6,627.9 L310.8,643 L314,660.1 L317.3,677.3 L321.5,694.5 L325.8,707.4 L331.2,717.1 L336.6,723.5 L343,727.8 L349.5,730.6 L353.8,731.4 L355.5,729.5" fill="none" stroke="#8a8a8a" stroke-width="1.7" stroke-dasharray="2.3 1.9" stroke-linejoin="round"/>
<path d="M68.7,764.1 C69.78,764.68 71.62,766.43 75.2,767.6 C78.78,768.77 86.9,770.22 90.2,771.1 C93.5,771.98 92.93,772.28 95,772.9 C97.07,773.52 100.05,774.1 102.6,774.8 C105.15,775.5 108.38,776.3 110.3,777.1 C112.22,777.9 112.83,778.38 114.1,779.6 C115.37,780.82 116.63,782.82 117.9,784.4 C119.17,785.98 120.43,787.9 121.7,789.1 C122.97,790.3 123.58,790.87 125.5,791.6 C127.42,792.33 130.33,792.87 133.2,793.5 C136.07,794.13 139.9,794.85 142.7,795.4 C145.5,795.95 147.52,796.35 150,796.8 C152.48,797.25 155.05,797.4 157.6,798.1 C160.15,798.8 162.75,799.95 165.3,801 C167.85,802.05 170.37,803.13 172.9,804.4 C175.43,805.67 177.95,807 180.5,808.6 C183.05,810.2 185.65,812.25 188.2,814 C190.75,815.75 193.92,817.78 195.8,819.1 C197.68,820.42 198.32,820.92 199.5,821.9 C200.68,822.88 201.62,823.88 202.9,825 C204.18,826.12 205.9,827.4 207.2,828.6 C208.5,829.8 209.52,831.02 210.7,832.2 C211.88,833.38 213.1,834.45 214.3,835.7 C215.5,836.95 216.7,838.38 217.9,839.7 C219.1,841.02 220.3,842.3 221.5,843.6 C222.7,844.9 223.93,846.23 225.1,847.5 C226.27,848.77 227.42,850.02 228.5,851.2 C229.58,852.38 230.48,853.45 231.6,854.6 C232.72,855.75 234.02,856.97 235.2,858.1 C236.38,859.23 237.52,860.32 238.7,861.4 C239.88,862.48 241.1,863.53 242.3,864.6 C243.5,865.67 244.7,866.75 245.9,867.8 C247.1,868.85 248.3,869.83 249.5,870.9 C250.7,871.97 252.03,873.12 253.1,874.2 C254.17,875.28 255,876.22 255.9,877.4 C256.8,878.58 257.62,879.9 258.5,881.3 C259.38,882.7 260.25,884.18 261.2,885.8 C262.15,887.42 263.17,889.23 264.2,891 C265.23,892.77 266.15,894.45 267.4,896.4 C268.65,898.35 270.5,900.9 271.7,902.7 C272.9,904.5 273.63,905.77 274.6,907.2 C275.57,908.63 276.55,910.03 277.5,911.3 C278.45,912.57 279.35,913.65 280.3,914.8 C281.25,915.95 282.25,917.12 283.2,918.2 C284.15,919.28 285.03,920.27 286,921.3 C286.97,922.33 287.6,923.03 289,924.4 C290.4,925.77 292.55,928 294.4,929.5 C296.25,931 298.2,932.3 300.1,933.4 C302,934.5 303.88,935.4 305.8,936.1 C307.72,936.8 309.68,937.28 311.6,937.6 C313.52,937.92 315.65,937.92 317.3,938 C318.95,938.08 319.37,938.27 321.5,938.1 C323.63,937.93 327.23,937.43 330.1,937 C332.97,936.57 335.83,935.93 338.7,935.5 C341.57,935.07 344.43,934.75 347.3,934.4 C350.17,934.05 354.47,933.57 355.9,933.4" fill="none" stroke="#505050" stroke-width="2" stroke-linejoin="round" stroke-linecap="round"/>
<path d="M70,879.7 L70.2,894.1 L72.1,907.3 L74.7,920.4 L77.3,930.9 L79.9,938.8 L81.3,945.3 L83.1,945.3 L84.4,936.1 L87.8,933.5 L90.4,930.4 L93.1,933.5 L95.7,934.8 L97.5,938.2 L102.3,938.2 L107,938.2 L108.8,926.9 L110.9,910.4 L112.3,887 L113.7,864.6 L115.2,841.7 L117.4,823.9 L119.5,823.2 L121.4,824.4 L122.3,827.3 L123.7,864.6 L125.2,910.4 L126.4,930.9 L128.3,938.5 L133.8,940.1 L136.4,944 L140.3,945.3 L141.6,949.3 L145.6,946.6 L148.2,944.5 L150.8,940.1 L154.8,938.8 L157.4,938.2 L160,930.9 L162.6,925.6 L164.3,920.2 L169.7,910.5 L175,903 L180.4,898.7 L184.7,885.8 L192.2,885.8 L195.4,882.6 L200.8,876.2 L204,866.5 L207.3,857.9 L211.1,845.9 L214,842 L218.7,842 L222.6,847.8 L226.6,851.5 L230.9,852.6 L235.2,856.8 L239.5,857.9 L241.1,858.1 L244.3,851.6 L248.6,844.1 L251.8,832.3 L255,821.5 L258.3,808.7 L261.5,795.8 L264.1,785 L266.8,778.6 L269,781.8 L271.1,788.3 L273.3,795.8 L275.4,807.6 L278.7,819.4 L281.9,831.2 L284,840.9 L286.2,851.6 L288.3,860.2 L290.4,870 L293.6,880.7 L296.8,891.5 L300.1,904.4 L303.3,915.1 L306.5,926.9 L309.7,938.7 L313,949.5 L316.2,958.1 L320.5,965.6 L323.7,972 L326.9,976.3 L331.2,978.5 L334.4,981.7 L338.7,982.8 L343,982.1" fill="none" stroke="#8a8a8a" stroke-width="1.7" stroke-dasharray="2.3 1.9" stroke-linejoin="round"/>
<line x1="234.3" y1="153.3" x2="234.3" y2="168.3" stroke="#a3a3a3" stroke-width="1.2"/>
<path d="M230,163.3 L234.3,174.3 L238.6,163.3 L234.3,167.3 Z" fill="#a3a3a3"/>
<text x="239.8" y="89.1" font-size="11.2" text-anchor="start" fill="#000">330 ºC</text>
<line x1="104.3" y1="303" x2="104.3" y2="287.5" stroke="#a3a3a3" stroke-width="1.2"/>
<path d="M100,292.5 L104.3,281.5 L108.6,292.5 L104.3,288.5 Z" fill="#a3a3a3"/>
<text x="109.6" y="302" font-size="11.2" text-anchor="start" fill="#000">95 ºC</text>
<line x1="196.9" y1="324.1" x2="196.9" y2="341" stroke="#a3a3a3" stroke-width="1.2"/>
<path d="M192.6,336 L196.9,347 L201.2,336 L196.9,340 Z" fill="#a3a3a3"/>
<text x="195.5" y="317.1" font-size="11.2" text-anchor="start" fill="#000">260 ºC</text>
<line x1="212.9" y1="367.9" x2="212.9" y2="384.8" stroke="#a3a3a3" stroke-width="1.2"/>
<path d="M208.6,379.8 L212.9,390.8 L217.2,379.8 L212.9,383.8 Z" fill="#a3a3a3"/>
<text x="205" y="362" font-size="11.2" text-anchor="start" fill="#000">291 ºC</text>
<line x1="261.5" y1="411.3" x2="261.5" y2="428.4" stroke="#a3a3a3" stroke-width="1.2"/>
<path d="M257.2,423.4 L261.5,434.4 L265.8,423.4 L261.5,427.4 Z" fill="#a3a3a3"/>
<text x="268.5" y="418.3" font-size="11.2" text-anchor="start" fill="#000">380 ºC</text>
<line x1="132.9" y1="552.7" x2="132.9" y2="537.3" stroke="#a3a3a3" stroke-width="1.2"/>
<path d="M128.6,542.3 L132.9,531.3 L137.2,542.3 L132.9,538.3 Z" fill="#a3a3a3"/>
<text x="139.8" y="551" font-size="11.2" text-anchor="start" fill="#000">144 ºC</text>
<line x1="263.4" y1="582.1" x2="263.4" y2="597.9" stroke="#a3a3a3" stroke-width="1.2"/>
<path d="M259.1,592.9 L263.4,603.9 L267.7,592.9 L263.4,596.9 Z" fill="#a3a3a3"/>
<text x="256.7" y="575.8" font-size="11.2" text-anchor="start" fill="#000">380 ºC</text>
<line x1="294.7" y1="650.5" x2="294.7" y2="669.2" stroke="#a3a3a3" stroke-width="1.2"/>
<path d="M290.4,664.2 L294.7,675.2 L299,664.2 L294.7,668.2 Z" fill="#a3a3a3"/>
<text x="286.8" y="642.5" font-size="11.2" text-anchor="start" fill="#000">438 ºC</text>
<line x1="118.3" y1="812.6" x2="118.3" y2="797.6" stroke="#a3a3a3" stroke-width="1.2"/>
<path d="M114,802.6 L118.3,791.6 L122.6,802.6 L118.3,798.6 Z" fill="#a3a3a3"/>
<text x="122.7" y="778.3" font-size="11.2" text-anchor="start" fill="#000">120 ºC</text>
<line x1="214" y1="810.5" x2="214" y2="826.5" stroke="#a3a3a3" stroke-width="1.2"/>
<path d="M209.7,821.5 L214,832.5 L218.3,821.5 L214,825.5 Z" fill="#a3a3a3"/>
<text x="202.7" y="805.2" font-size="11.2" text-anchor="start" fill="#000">295 ºC</text>
<line x1="267.9" y1="859.1" x2="267.9" y2="876.2" stroke="#a3a3a3" stroke-width="1.2"/>
<path d="M263.6,871.2 L267.9,882.2 L272.2,871.2 L267.9,875.2 Z" fill="#a3a3a3"/>
<text x="254" y="851.6" font-size="11.2" text-anchor="start" fill="#000">390 ºC</text>
<text x="314" y="45" font-size="12.5" text-anchor="middle" fill="#000">(a)</text>
<text x="314" y="60.1" font-size="12.5" text-anchor="middle" fill="#000">oleic</text>
<text x="314.3" y="286.5" font-size="12.5" text-anchor="middle" fill="#000">(b)</text>
<text x="314.2" y="301.8" font-size="12.5" text-anchor="middle" fill="#000">B+oleic</text>
<rect x="307.5" y="513.3" width="21.2" height="15.3" fill="none" stroke="#8a8a8a" stroke-width="1"/>
<text x="318" y="524.3" font-size="12.5" text-anchor="middle" fill="#000">(c)</text>
<text x="319.7" y="540.1" font-size="12.5" text-anchor="middle" fill="#000">Mg+oleic</text>
<rect x="303.3" y="754.6" width="22.1" height="15.0" fill="none" stroke="#9a9a9a" stroke-width="1"/>
<text x="314" y="766.3" font-size="12.5" text-anchor="middle" fill="#000">(d)</text>
<text x="315.6" y="780.4" font-size="12.5" text-anchor="middle" fill="#000">Mg+B+oleic</text>
<rect x="63.4" y="132.8" width="112" height="50.2" fill="#fff" stroke="#1a1a1a" stroke-width="1.1"/>
<line x1="69" y1="149.8" x2="102.5" y2="149.8" stroke="#505050" stroke-width="1.8"/>
<text x="105.6" y="154.4" font-size="11.6" text-anchor="start" fill="#4a4a4a">Weight.</text>
<line x1="65.9" y1="172.5" x2="100" y2="172.5" stroke="#999" stroke-width="1.2" stroke-dasharray="2 1.4"/>
<text x="103.7" y="177" font-size="11.6" text-anchor="start" fill="#a8a8a8">Deriv. Weight</text>
</svg>
</body></html>
